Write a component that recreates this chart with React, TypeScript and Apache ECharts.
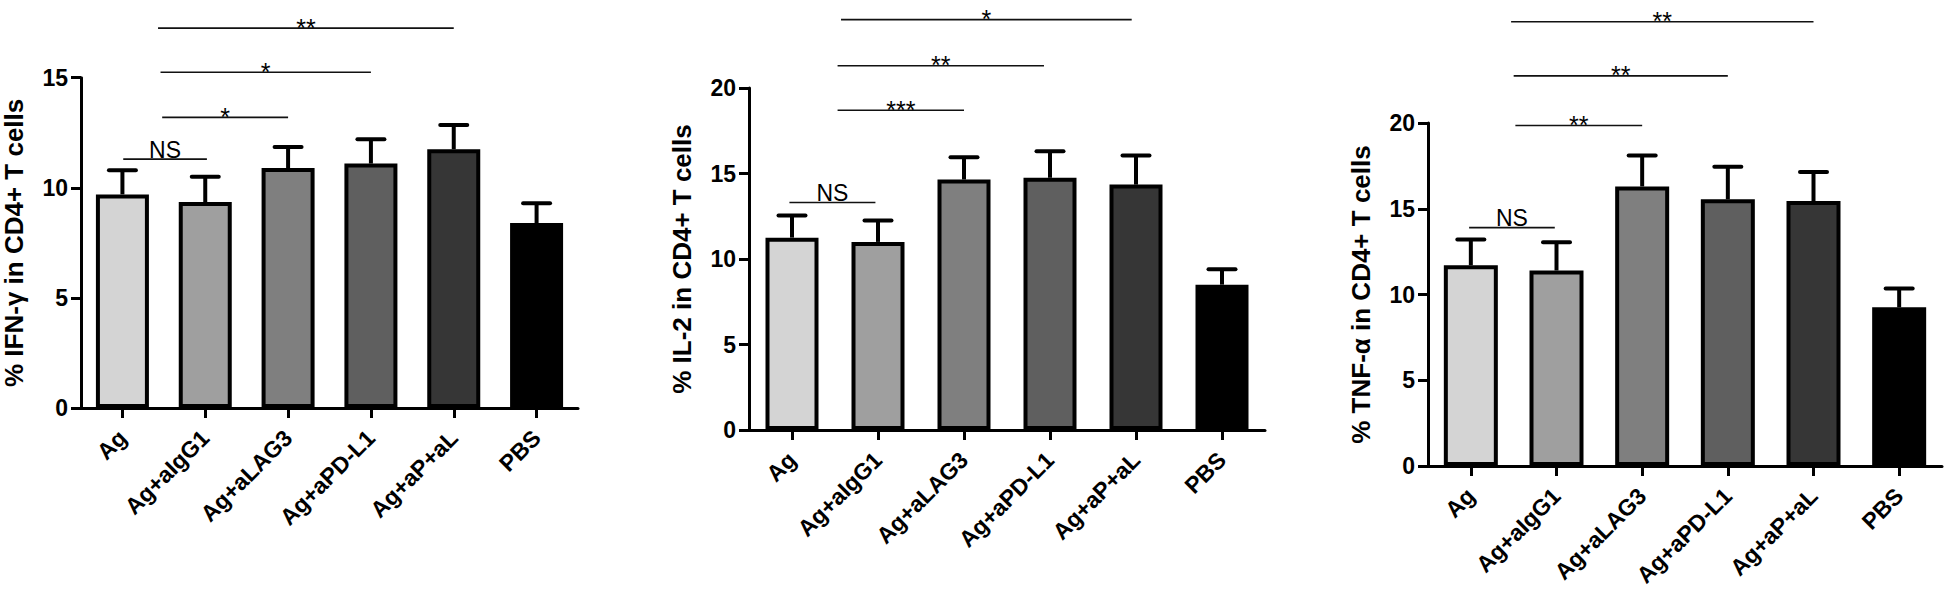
import React, { useEffect, useRef } from "react";
import * as echarts from "echarts";

const categories = ["Ag", "Ag+aIgG1", "Ag+aLAG3", "Ag+aPD-L1", "Ag+aP+aL", "PBS"];
const barColors = ["#d4d4d4", "#9f9f9f", "#7f7f7f", "#5f5f5f", "#363636", "#000000"];

const ifnMean = [9.7, 9.35, 10.9, 11.1, 11.75, 8.4];
const ifnSem = [1.1, 1.15, 0.95, 1.1, 1.1, 0.9];
const il2Mean = [11.25, 11.0, 14.65, 14.75, 14.35, 8.5];
const il2Sem = [1.3, 1.25, 1.3, 1.55, 1.7, 0.9];
const tnfMean = [11.7, 11.4, 16.3, 15.55, 15.45, 9.25];
const tnfSem = [1.5, 1.65, 1.8, 1.9, 1.7, 1.1];

const ifnSig = [
  { from: 0.01, to: 1.02, y: 11.3, text: "NS" },
  { from: 0.48, to: 2, y: 13.2, text: "*" },
  { from: 0.46, to: 3, y: 15.25, text: "*" },
  { from: 0.43, to: 4, y: 17.25, text: "**" },
];
const il2Sig = [
  { from: -0.03, to: 0.97, y: 13.3, text: "NS" },
  { from: 0.53, to: 2, y: 18.7, text: "***" },
  { from: 0.53, to: 2.93, y: 21.3, text: "**" },
  { from: 0.57, to: 3.95, y: 24, text: "*" },
];
const tnfSig = [
  { from: -0.02, to: 0.98, y: 13.9, text: "NS" },
  { from: 0.52, to: 2, y: 19.85, text: "**" },
  { from: 0.5, to: 3, y: 22.75, text: "**" },
  { from: 0.47, to: 4, y: 25.9, text: "**" },
];

const yTitles = ["% IFN-γ in CD4+ T cells", "% IL-2 in CD4+ T cells", "% TNF-α in CD4+ T cells"];
const yMax = [15, 20, 20];

const FONT = "'Liberation Sans', Arial, Helvetica, sans-serif";

const panels = [
  { mean: ifnMean, sem: ifnSem, sig: ifnSig, grid: { left: 80, top: 77.7, width: 498, height: 330.3 }, barWidth: 53 },
  { mean: il2Mean, sem: il2Sem, sig: il2Sig, grid: { left: 749, top: 88, width: 516, height: 342 }, barWidth: 53 },
  { mean: tnfMean, sem: tnfSem, sig: tnfSig, grid: { left: 1428, top: 123, width: 514, height: 343 }, barWidth: 54 },
];

export default function App() {
  const ref = useRef<HTMLDivElement>(null);
  useEffect(() => {
    document.body.style.margin = "0";
    const chart = echarts.init(ref.current!, undefined, { renderer: "svg" });
    const grids: any[] = [];
    const xAxes: any[] = [];
    const yAxes: any[] = [];
    const series: any[] = [];
    panels.forEach((p, k) => {
      grids.push({ ...p.grid, containLabel: false });
      xAxes.push({
        type: "category",
        gridIndex: k,
        data: categories,
        axisLine: { show: true, lineStyle: { color: "#000", width: 3 } },
        axisTick: { show: true, alignWithLabel: true, length: 10, lineStyle: { color: "#000", width: 3 } },
        axisLabel: {
          interval: 0,
          rotate: 45,
          margin: 26,
          color: "#000",
          fontSize: 23,
          fontWeight: "bold",
          fontFamily: FONT,
        },
        splitLine: { show: false },
      });
      yAxes.push({
        type: "value",
        gridIndex: k,
        min: 0,
        max: yMax[k],
        interval: 5,
        name: yTitles[k],
        nameLocation: "middle",
        nameGap: 54,
        nameTextStyle: { color: "#000", fontSize: 26, fontWeight: "bold", fontFamily: FONT },
        axisLine: { show: true, lineStyle: { color: "#000", width: 3 } },
        axisTick: { show: true, length: 10, lineStyle: { color: "#000", width: 3 } },
        axisLabel: { color: "#000", fontSize: 23, fontWeight: "bold", fontFamily: FONT, margin: 13 },
        splitLine: { show: false },
      });
      series.push({
        type: "bar",
        xAxisIndex: k,
        yAxisIndex: k,
        barWidth: p.barWidth,
        data: p.mean.map((v, i) => ({
          value: v,
          itemStyle: { color: barColors[i], borderColor: "#000", borderWidth: 4 },
        })),
        z: 2,
      });
      series.push({
        type: "custom",
        xAxisIndex: k,
        yAxisIndex: k,
        data: p.mean.map((v, i) => [i, v, v + p.sem[i]]),
        encode: { x: 0, y: [1, 2] },
        z: 1,
        clip: false,
        renderItem: (params: any, api: any) => {
          const i = api.value(0);
          const base = api.coord([i, api.value(1)]);
          const top = api.coord([i, api.value(2)]);
          return {
            type: "group",
            children: [
              { type: "line", shape: { x1: base[0], y1: base[1], x2: top[0], y2: top[1] }, style: { stroke: "#000", lineWidth: 4 } },
              { type: "line", shape: { x1: top[0] - 13.5, y1: top[1], x2: top[0] + 13.5, y2: top[1] }, style: { stroke: "#000", lineWidth: 4, lineCap: "round" } },
            ],
          };
        },
      });
      series.push({
        type: "custom",
        xAxisIndex: k,
        yAxisIndex: k,
        data: p.sig.map((s, i) => [i, s.y]),
        encode: { x: 0, y: 1 },
        clip: false,
        z: 3,
        renderItem: (params: any, api: any) => {
          const s = p.sig[params.dataIndex];
          const a = api.coord([0, s.y]);
          const b = api.coord([1, s.y]);
          const step = b[0] - a[0];
          const x1 = a[0] + s.from * step;
          const x2 = a[0] + s.to * step;
          const isNS = s.text === "NS";
          return {
            type: "group",
            children: [
              { type: "line", shape: { x1, y1: a[1], x2, y2: a[1] }, style: { stroke: "#111", lineWidth: 1.6 } },
              {
                type: "text",
                x: (x1 + x2) / 2,
                y: a[1] + (isNS ? 2 : 12),
                style: {
                  text: s.text,
                  fill: "#000",
                  font: isNS ? `normal 23px ${FONT}` : `normal 25px ${FONT}`,
                  align: "center",
                  verticalAlign: "bottom",
                },
              },
            ],
          };
        },
      });
    });
    chart.setOption({
      animation: false,
      backgroundColor: "#fff",
      grid: grids,
      xAxis: xAxes,
      yAxis: yAxes,
      series,
    });
    return () => chart.dispose();
  }, []);
  return <div ref={ref} style={{ width: 1946, height: 604 }} />;
}
